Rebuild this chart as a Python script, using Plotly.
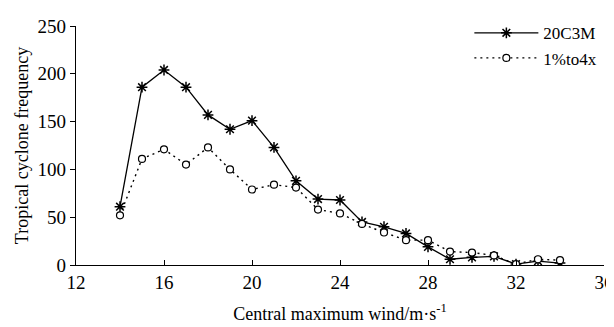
import plotly.graph_objects as go

wind = [14, 15, 16, 17, 18, 19, 20, 21, 22, 23, 24, 25, 26, 27, 28, 29, 30, 31, 32, 33, 34]
freq_20c3m = [61, 186, 204, 186, 157, 142, 151, 123, 88, 69, 68, 45, 40, 33, 19, 6, 8, 9, 1, 4, 2]
freq_1pct = [52, 111, 121, 105, 123, 100, 79, 84, 81, 58, 54, 43, 34, 26, 26, 14, 13, 10, 1, 6, 5]
x_ticks = [12, 16, 20, 24, 28, 32, 36]
y_ticks = [0, 50, 100, 150, 200, 250]

font = "Liberation Serif, Times New Roman, serif"

fig = go.Figure()
fig.add_trace(go.Scatter(
    x=wind, y=freq_20c3m, name="20C3M", mode="lines+markers",
    line=dict(color="black", width=1.3, dash="solid"),
    marker=dict(symbol="asterisk-open", size=9, color="black",
                line=dict(color="black", width=1.5)),
))
fig.add_trace(go.Scatter(
    x=wind, y=freq_1pct, name="1%to4x", mode="lines+markers",
    line=dict(color="black", width=1.4, dash="2px,4px"),
    marker=dict(symbol="circle", size=7, color="white",
                line=dict(color="black", width=1.2)),
))

fig.update_layout(
    width=614, height=327,
    margin=dict(l=68, r=18, t=7, b=70),
    paper_bgcolor="white", plot_bgcolor="white",
    font=dict(family=font, size=19, color="black"),
    showlegend=True,
    legend=dict(x=0.745, y=1.045, xanchor="left", yanchor="top",
                bgcolor="rgba(0,0,0,0)", font=dict(size=17),
                tracegroupgap=0, itemwidth=64),
    xaxis=dict(
        range=[12, 36], tickvals=x_ticks, ticktext=[str(v) for v in x_ticks],
        showgrid=False, zeroline=False, showline=True, linecolor="black", linewidth=1.2,
        ticks="inside", ticklen=5, tickcolor="black", automargin=False,
        tickfont=dict(size=19),
        title=dict(text="Central maximum wind/m·s<sup>-1</sup>", standoff=15,
                   font=dict(size=18)),
    ),
    yaxis=dict(
        range=[0, 250], tickvals=y_ticks, ticktext=[str(v) for v in y_ticks],
        showgrid=False, zeroline=False, showline=True, linecolor="black", linewidth=1.2,
        ticks="outside", ticklen=5, tickcolor="black", automargin=False,
        tickfont=dict(size=19),
        title=dict(text="Tropical cyclone frequency", standoff=4, font=dict(size=18)),
    ),
)

fig.write_html("out.html")
